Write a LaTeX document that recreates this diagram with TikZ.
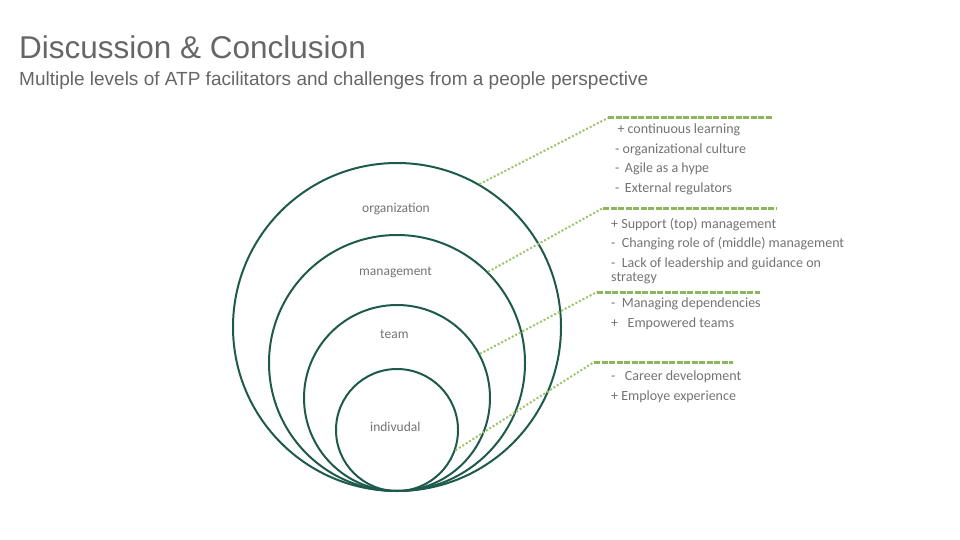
\documentclass[tikz,border=0pt]{standalone}
\usepackage{fontspec}
\setmainfont{Liberation Sans}
\newfontfamily\calfont{Carlito}
\begin{document}
\begin{tikzpicture}[x=1pt,y=-1pt,
  ring/.style={draw=circ,line width=2pt},
  diag/.style={draw=lgreen,line width=2pt,dotted},
  hline/.style={draw=dgreen,line width=3pt,dash pattern=on 6pt off 1.5pt},
  lbl/.style={font=\calfont\fontsize{13.5}{16}\selectfont,text=gray!90!black,anchor=west,align=left,inner sep=0pt},
  lst/.style={font=\calfont\fontsize{14}{19.5}\selectfont,text=gray!90!black,anchor=north west,align=left,inner sep=0pt}]
\definecolor{circ}{HTML}{1E5A4B}
\definecolor{lgreen}{HTML}{9BC36A}
\definecolor{dgreen}{HTML}{8DB55E}
\useasboundingbox (0,0) rectangle (960,540);
\node[anchor=west,inner sep=0pt,font=\fontsize{31.5}{36}\selectfont,text=gray!80!black] (t) at (19,47) {Discussion \& Conclusion};
\node[anchor=west,inner sep=0pt,font=\fontsize{19}{22}\selectfont,text=gray!80!black] (s) at (19,81) {Multiple levels of ATP facilitators and challenges from a people perspective};
\node[ring,circle,minimum size=328pt,inner sep=0pt] (c1) at (397,327) {};
\node[ring,circle,minimum size=256pt,inner sep=0pt] (c2) at (397,363) {};
\node[ring,circle,minimum size=186pt,inner sep=0pt] (c3) at (397,398) {};
\node[ring,circle,minimum size=122pt,inner sep=0pt] (c4) at (397,430) {};
\node[lbl] (l1) at (362,209) {organization};
\node[lbl] (l2) at (359,272) {management};
\node[lbl] (l3) at (380,334) {team};
\node[lbl] (l4) at (370,427) {indivudal};
\coordinate (a1) at (c1.60); \coordinate (b1) at (608,118); \coordinate (e1) at (773,118);
\coordinate (a2) at (c2.45); \coordinate (b2) at (603,208); \coordinate (e2) at (776,208);
\coordinate (a3) at (c3.28); \coordinate (b3) at (597,292); \coordinate (e3) at (760,292);
\coordinate (a4) at (c4.-19); \coordinate (b4) at (594,362); \coordinate (e4) at (733,362);
\draw[diag] (a1)--(b1); \draw[hline] (b1)--(e1);
\draw[diag] (a2)--(b2); \draw[hline] (b2)--(e2);
\draw[diag] (a3)--(b3); \draw[hline] (b3)--(e3);
\draw[diag] (a4)--(b4); \draw[hline] (b4)--(e4);
\node[lst] (x1) at (615,124) {\,+ continuous learning\\- organizational culture\\- \,Agile as a hype\\- \,External regulators};
\node[lst] (x2) at (611,218) {+ Support (top) management\\- \ Changing role of (middle) management\\- \ Lack of leadership and guidance on\\[-5pt]strategy};
\node[lst] (x3) at (611,298) {- \ Managing dependencies\\+ \ \ Empowered teams};
\node[lst] (x4) at (611,371) {- \ \ Career development\\+ Employe experience};
\end{tikzpicture}
\end{document}
